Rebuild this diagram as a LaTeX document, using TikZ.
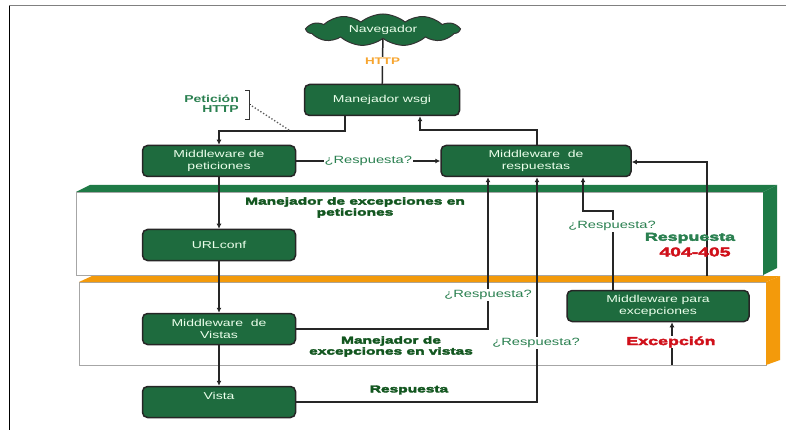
\documentclass[tikz,border=0pt]{standalone}
\usepackage{fontspec}
\setmainfont{Liberation Sans}[FakeStretch=1.4]
\newfontfamily\boldf{Liberation Sans Bold}[FakeStretch=1.4]
\newfontfamily\heavyf{Liberation Sans Bold}[FakeStretch=1.55,FakeBold=3.5]
\usetikzlibrary{shapes.symbols,arrows.meta}
\definecolor{boxgreen}{HTML}{1E6B3E}
\definecolor{bandgreen}{HTML}{1E7A46}
\definecolor{bandorange}{HTML}{F39A0B}
\definecolor{labelgreen}{HTML}{12561F}
\definecolor{midgreen}{HTML}{2A8050}
\definecolor{labelred}{HTML}{D0101A}
\definecolor{httporange}{HTML}{F7A530}
\begin{document}
\begin{tikzpicture}[x=1pt,y=-1pt,
  box/.style={draw=black!85, line width=1.5pt, fill=boxgreen, rounded corners=5pt,
    minimum width=153pt, minimum height=31pt, text=white!92!green, align=center,
    font=\fontsize{10}{11.5}\selectfont, inner sep=0pt},
  conn/.style={draw=black!85, line width=1.5pt},
  arr/.style={conn, -{Latex[length=5pt,width=5pt]}},
  ask/.style={text=midgreen, font=\fontsize{10.5}{12}\selectfont, fill=white, inner sep=1pt},
  heavy/.style={text=labelgreen, font=\heavyf\fontsize{10}{11}\selectfont, align=center, inner sep=0pt},
  big/.style={heavy, font=\heavyf\fontsize{11.5}{12}\selectfont},
]
\useasboundingbox (0,0) rectangle (786,430);
\fill[white] (0,0) rectangle (786,430);
% frame
\draw[gray, line width=1pt] (9,6) -- (786,6);
\draw[black, line width=1pt] (9,6) -- (9,430);

% green 3D box
\draw[gray!70, line width=0.8pt, fill=white] (76,192) rectangle (763,275);
\fill[bandgreen] (76,192) -- (90,185) -- (777,185) -- (763,192) -- cycle;
\fill[bandgreen] (763,192) -- (777,185) -- (777,268) -- (763,275) -- cycle;
% orange 3D box
\draw[gray!70, line width=0.8pt, fill=white] (79,282) rectangle (766,365);
\fill[bandorange] (79,282) -- (92,276) -- (780,276) -- (766,282) -- cycle;
\fill[bandorange] (766,282) -- (780,276) -- (780,360) -- (766,365) -- cycle;

% nodes
\node[cloud, cloud puffs=11, cloud puff arc=80, cloud ignores aspect, draw=black!80, line width=1pt,
  fill=boxgreen, minimum width=152pt, minimum height=32pt, inner sep=0pt, text=white!92!green,
  font=\fontsize{10}{11.5}\selectfont] (nav) at (383,30) {Navegador};
\node[box, minimum width=155pt] (wsgi) at (382,100) {Manejador wsgi};
\node[box] (pet) at (219,161) {Middleware de\\peticiones};
\node[box, minimum width=190pt] (resp) at (536,161) {Middleware\ \ de\\respuestas};
\node[box] (url) at (219,245) {URLconf};
\node[box] (vis) at (219,329) {Middleware\ \ de\\Vistas};
\node[box] (vista) at (219,402) {Vista\\\mbox{}};
\node[box, minimum width=182pt] (exc) at (658,306) {Middleware para\\excepciones};

% coordinates
\coordinate (c1) at (345,131);
\coordinate (c2) at (537,130);
\coordinate (c3) at (420,130);
\coordinate (d1) at (252,106);
\coordinate (d2) at (289,130);
\coordinate (v1) at (488,329);
\coordinate (v2) at (537,402);
\coordinate (e1) at (613,211);
\coordinate (e2) at (583,211);
\coordinate (r1) at (707,276);
\coordinate (r2) at (707,162);
\coordinate (x1) at (672,365);

% connectors
\draw[conn] (nav) -- node[fill=white, text=httporange, font=\boldf\fontsize{9.6}{11}\selectfont, inner sep=1pt] (http) {HTTP} (wsgi);
\draw[arr] (wsgi.south -| c1) -- (c1) -| (pet.north);
\draw[arr] (resp.north -| c2) -- (c2) -- (c3) -- (wsgi.south -| c3);
\draw[arr] (pet) -- node[ask] (q1) {¿Respuesta?} (resp);
\draw[arr] (pet) -- (url);
\draw[arr] (url) -- (vis);
\draw[arr] (vis) -- (vista);
\draw[arr] (vis.east) -- (v1) -- (resp.south -| v1);
\draw[arr] (vista.east) -- (v2) -- (resp.south -| v2);
\draw[arr] (exc.north -| e1) -- (e1) -- (e2) -- (resp.south -| e2);
\draw[arr] (r1) -- (r2) -- (resp.east |- r2);
\draw[arr] (x1) -- (exc.south -| x1);

% bracket and dotted pointer
\draw[black!80, line width=0.8pt] (245,90) -- (249,90) -- (249,119) -- (245,119);
\draw[black!80, line width=0.8pt] (249,104) -- (251,104);
\draw[dotted, line width=1.3pt, black!65] (d1) -- (d2);

% labels
\node[ask] (q2) at (488,295) {¿Respuesta?};
\node[ask] (q3) at (536,343) {¿Respuesta?};
\node[ask] (q4) at (612,226) {¿Respuesta?};
\node[big, text=labelred, fill=white, inner sep=1pt] (exl) at (671,342) {Excepción};
\node[heavy] (t1) at (355,207.5) {Manejador de excepciones en\\peticiones};
\node[heavy] (t2) at (391,346.5) {Manejador de\\excepciones en vistas};
\node[heavy] (t3) at (409,390) {Respuesta};
\node[big, text=midgreen] (t4) at (690,238) {Respuesta};
\node[big, text=labelred, font=\heavyf\fontsize{12.5}{13}\selectfont] (t5) at (695,252) {404-405};
\node[anchor=east, align=right, text=midgreen, font=\boldf\fontsize{10}{10.5}\selectfont, inner sep=0pt] (ph) at (239,104) {Petición\\HTTP};
\end{tikzpicture}
\end{document}
